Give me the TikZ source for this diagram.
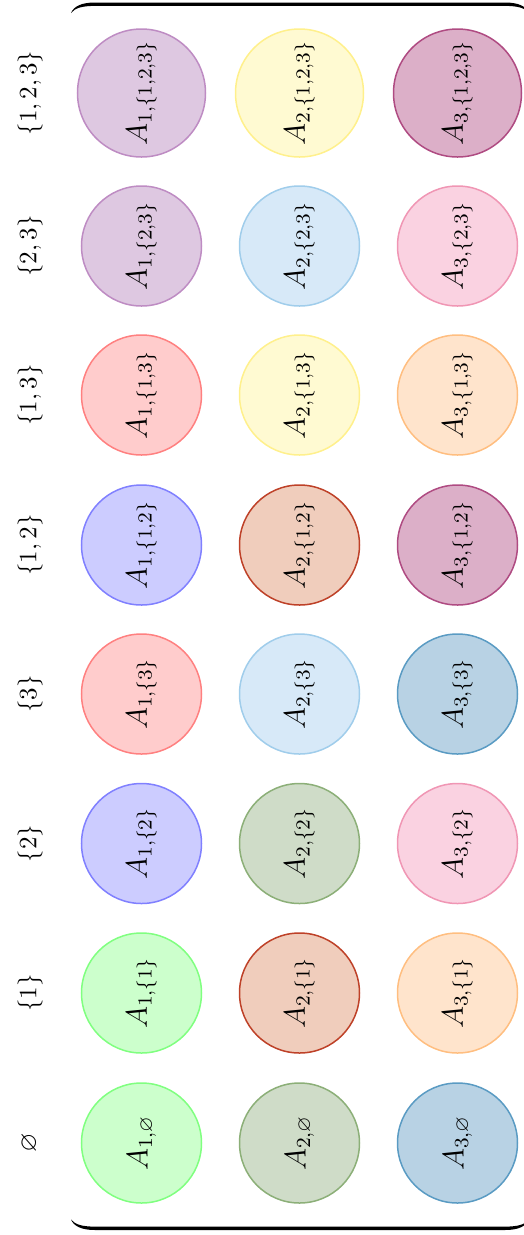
\documentclass[tikz,border=0pt]{standalone}
\usepackage{amssymb}
\definecolor{grnF}{RGB}{204,255,204}\definecolor{grnD}{RGB}{128,255,128}
\definecolor{olvF}{RGB}{207,220,200}\definecolor{olvD}{RGB}{140,175,120}
\definecolor{stbF}{RGB}{184,210,228}\definecolor{stbD}{RGB}{90,155,195}
\definecolor{rstF}{RGB}{240,205,188}\definecolor{rstD}{RGB}{190,65,40}
\definecolor{orgF}{RGB}{255,228,204}\definecolor{orgD}{RGB}{255,190,128}
\definecolor{bluF}{RGB}{204,204,255}\definecolor{bluD}{RGB}{128,128,255}
\definecolor{pnkF}{RGB}{250,210,225}\definecolor{pnkD}{RGB}{240,150,180}
\definecolor{redF}{RGB}{255,204,204}\definecolor{redD}{RGB}{255,128,128}
\definecolor{lblF}{RGB}{215,233,248}\definecolor{lblD}{RGB}{160,205,235}
\definecolor{plmF}{RGB}{220,175,200}\definecolor{plmD}{RGB}{175,75,130}
\definecolor{ylwF}{RGB}{255,250,210}\definecolor{ylwD}{RGB}{255,240,140}
\definecolor{prpF}{RGB}{222,200,225}\definecolor{prpD}{RGB}{190,140,195}
\tikzset{
  cell/.style={circle, line width=0.6pt, minimum size=48pt, inner sep=1pt, rotate=90, font=\large, fill=#1F, draw=#1D},
  bigcell/.style={cell=#1, minimum size=51.2pt},
  lab/.style={rotate=90, inner sep=1pt},
}
\begin{document}
\begin{tikzpicture}[x=0.4pt,y=-0.4pt]
\useasboundingbox (0,0) rectangle (523,1235);
% parentheses
\fill (71,13) .. controls (74,6) and (82,2.5) .. (95,2.5) -- (505,2.5) .. controls (518,2.5) and (526,6) .. (529,13)
      .. controls (525,8) and (518,5.9) .. (505,5.9) -- (95,5.9) .. controls (82,5.9) and (75,8) .. (71,13) -- cycle;
\fill (71,1219.5) .. controls (74,1226.5) and (82,1230) .. (95,1230) -- (505,1230) .. controls (518,1230) and (526,1226.5) .. (529,1219.5)
      .. controls (525,1224.5) and (518,1226.6) .. (505,1226.6) -- (95,1226.6) .. controls (82,1226.6) and (75,1224.5) .. (71,1219.5) -- cycle;
% labels
\node[lab] (l0) at (30,1143) {$\varnothing$};
\node[lab] (l1) at (30,993) {$\{1\}$};
\node[lab] (l2) at (30,843.5) {$\{2\}$};
\node[lab] (l3) at (30,694) {$\{3\}$};
\node[lab] (l12) at (30,545) {$\{1,2\}$};
\node[lab] (l13) at (30,395) {$\{1,3\}$};
\node[lab] (l23) at (30,246) {$\{2,3\}$};
\node[lab] (l123) at (30,93) {$\{1,2,3\}$};
% row empty
\node[cell=grn] (a10) at (141.5,1143) {$A_{1,\varnothing}$};
\node[cell=olv] (a20) at (299.5,1143) {$A_{2,\varnothing}$};
\node[cell=stb] (a30) at (457.5,1143) {$A_{3,\varnothing}$};
% {1}
\node[cell=grn] (a11) at (141.5,993) {$A_{1,\{1\}}$};
\node[cell=rst] (a21) at (299.5,993) {$A_{2,\{1\}}$};
\node[cell=org] (a31) at (457.5,993) {$A_{3,\{1\}}$};
% {2}
\node[cell=blu] (a12) at (141.5,843.5) {$A_{1,\{2\}}$};
\node[cell=olv] (a22) at (299.5,843.5) {$A_{2,\{2\}}$};
\node[cell=pnk] (a32) at (457.5,843.5) {$A_{3,\{2\}}$};
% {3}
\node[cell=red] (a13) at (141.5,694) {$A_{1,\{3\}}$};
\node[cell=lbl] (a23) at (299.5,694) {$A_{2,\{3\}}$};
\node[cell=stb] (a33) at (457.5,694) {$A_{3,\{3\}}$};
% {1,2}
\node[cell=blu] (a112) at (141.5,545) {$A_{1,\{1,2\}}$};
\node[cell=rst] (a212) at (299.5,545) {$A_{2,\{1,2\}}$};
\node[cell=plm] (a312) at (457.5,545) {$A_{3,\{1,2\}}$};
% {1,3}
\node[cell=red] (a113) at (141.5,395) {$A_{1,\{1,3\}}$};
\node[cell=ylw] (a213) at (299.5,395) {$A_{2,\{1,3\}}$};
\node[cell=org] (a313) at (457.5,395) {$A_{3,\{1,3\}}$};
% {2,3}
\node[cell=prp] (a123) at (141.5,246) {$A_{1,\{2,3\}}$};
\node[cell=lbl] (a223) at (299.5,246) {$A_{2,\{2,3\}}$};
\node[cell=pnk] (a323) at (457.5,246) {$A_{3,\{2,3\}}$};
% {1,2,3}
\node[bigcell=prp] (a1123) at (141.5,93) {$A_{1,\{1,2,3\}}$};
\node[bigcell=ylw] (a2123) at (299.5,93) {$A_{2,\{1,2,3\}}$};
\node[bigcell=plm] (a3123) at (457.5,93) {$A_{3,\{1,2,3\}}$};
\end{tikzpicture}
\end{document}
